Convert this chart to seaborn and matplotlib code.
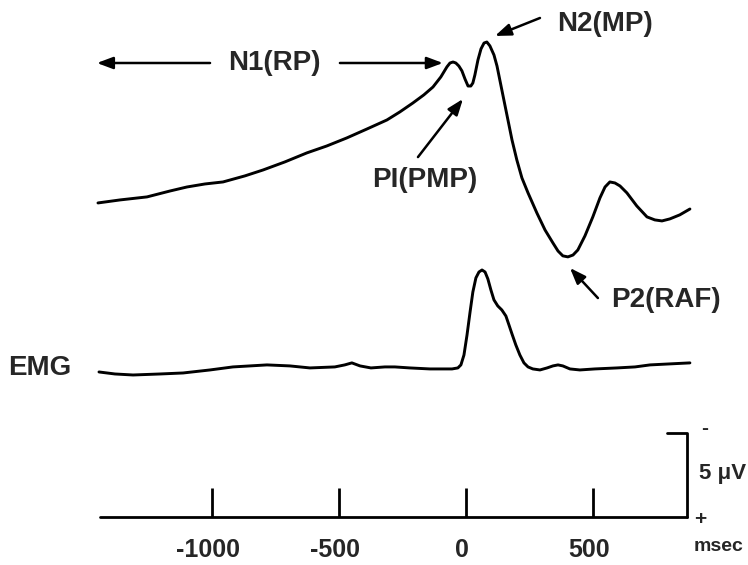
import numpy as np
import pandas as pd
import matplotlib
matplotlib.use("Agg")
import matplotlib.pyplot as plt
import seaborn as sns

# ---- data (time in msec, potentials in microvolts, negative = up) ----
mrcp_time = [-1447, -1360, -1254, -1164, -1097, -1026, -955, -869, -798, -712,
             -625, -547, -468, -389, -310, -259, -208, -165, -129, -98,
             -74, -62, -50, -39, -27, -15, -3, 9, 20, 28,
             36, 48, 60, 72, 83, 95, 111, 123, 142, 162,
             182, 201, 221, 245, 280, 312, 343, 363, 382, 402,
             422, 441, 469, 500, 528, 548, 567, 587, 607, 634,
             673, 713, 744, 772, 803, 842, 882]
mrcp_uv = [0.00, -0.18, -0.36, -0.71, -0.95, -1.13, -1.25, -1.61, -1.96, -2.44,
           -2.98, -3.39, -3.87, -4.40, -4.94, -5.42, -5.95, -6.43, -6.90, -7.50,
           -8.10, -8.33, -8.39, -8.33, -8.15, -7.86, -7.38, -6.96, -6.96, -7.14,
           -7.62, -8.51, -9.17, -9.52, -9.58, -9.35, -8.81, -8.15, -6.73, -5.24,
           -3.75, -2.56, -1.49, -0.60, 0.60, 1.61, 2.38, 2.86, 3.15, 3.21,
           3.10, 2.80, 1.96, 0.83, -0.30, -0.95, -1.25, -1.19, -1.01, -0.60,
           0.18, 0.83, 1.01, 1.07, 0.95, 0.71, 0.36]

emg_time = [-1443, -1380, -1309, -1203, -1112, -1006, -916, -849, -782, -692,
            -613, -515, -476, -448, -416, -373, -318, -279, -220, -141,
            -54, -31, -19, -7, 5, 17, 28, 40, 52, 64,
            76, 87, 99, 111, 126, 142, 158, 170, 182, 197,
            213, 229, 245, 264, 292, 320, 343, 363, 382, 410,
            449, 508, 595, 666, 725, 803, 882]
emg_amp = [0.00, -0.12, -0.18, -0.12, -0.06, 0.12, 0.30, 0.36, 0.42, 0.36,
           0.24, 0.30, 0.42, 0.54, 0.36, 0.24, 0.30, 0.30, 0.24, 0.18,
           0.18, 0.24, 0.42, 1.01, 2.20, 3.57, 4.76, 5.60, 5.95, 6.07,
           5.95, 5.54, 4.88, 4.29, 3.93, 3.69, 3.33, 2.80, 2.26, 1.61,
           1.01, 0.54, 0.30, 0.18, 0.12, 0.24, 0.36, 0.42, 0.36, 0.18,
           0.12, 0.18, 0.24, 0.30, 0.42, 0.48, 0.54]

tick_values = [-1000, -500, 0, 500]
tick_labels = ["-1000", "-500", "0", "500"]
scale_uv = 5

# ---- layout ----
MRCP_BASE = 12.08
EMG_BASE = 22.14
AXIS_Y = 30.77
AXIS_START, AXIS_END = -1439, 870

sns.set_theme(style="white")
plt.rcParams["font.family"] = ["Liberation Sans", "DejaVu Sans"]

fig = plt.figure(figsize=(7.48, 5.65), dpi=100)
ax = fig.add_axes([0, 0, 1, 1])

mrcp = pd.DataFrame({"t": mrcp_time, "y": MRCP_BASE + np.array(mrcp_uv)})
emg = pd.DataFrame({"t": emg_time, "y": EMG_BASE - np.array(emg_amp)})

lw = 2.1
sns.lineplot(data=mrcp, x="t", y="y", color="black", lw=lw, ax=ax,
             estimator=None, sort=False)
sns.lineplot(data=emg, x="t", y="y", color="black", lw=lw, ax=ax,
             estimator=None, sort=False)
for l in ax.lines:
    l.set_solid_joinstyle("round")
    l.set_solid_capstyle("round")

# time axis
ax.plot([AXIS_START, AXIS_END], [AXIS_Y, AXIS_Y], color="black", lw=2.0)
ax.vlines(tick_values, AXIS_Y - 1.7, AXIS_Y, color="black", lw=2.0)
for v, lab in zip(tick_values, tick_labels):
    ax.text(v - 15, AXIS_Y + 1.95, lab, ha="center", va="center",
            fontsize=18, fontweight="bold")
ax.text(993, AXIS_Y + 1.75, "msec", ha="center", va="center",
        fontsize=14, fontweight="bold")

# calibration bar
ax.plot([791, AXIS_END, AXIS_END], [AXIS_Y - scale_uv, AXIS_Y - scale_uv, AXIS_Y],
        color="black", lw=2.0)
ax.text(938, AXIS_Y - scale_uv - 0.25, "-", ha="center", va="center",
        fontsize=15, fontweight="bold")
ax.text(918, AXIS_Y - 2.6, "5 \u03bcV", ha="left", va="center",
        fontsize=16, fontweight="bold")
ax.text(922, AXIS_Y + 0.15, "+", ha="center", va="center",
        fontsize=15, fontweight="bold")

# labels
tfs = 20
ax.text(-1675, 21.9, "EMG", ha="center", va="center", fontsize=tfs, fontweight="bold")
ax.text(-751, 3.75, "N1(RP)", ha="center", va="center", fontsize=tfs, fontweight="bold")
ax.text(-161, 10.71, "PI(PMP)", ha="center", va="center", fontsize=tfs, fontweight="bold")
ax.text(548, 1.40, "N2(MP)", ha="center", va="center", fontsize=tfs, fontweight="bold")
ax.text(788, 17.86, "P2(RAF)", ha="center", va="center", fontsize=tfs, fontweight="bold")

arrow_kw = dict(arrowstyle="-|>,head_length=0.8,head_width=0.3", color="black",
                lw=1.8, shrinkA=0, shrinkB=0)
arrows = [((-1006, 3.75), (-1451, 3.75)),
          ((-495, 3.75), (-90, 3.75)),
          ((-188, 9.35), (-11, 5.89)),
          ((292, 1.07), (115, 2.14)),
          ((520, 17.74), (410, 15.95))]
for tail, tip in arrows:
    ax.annotate("", xy=tip, xytext=tail, arrowprops=arrow_kw)

ax.set_xlim(-1832.4, 1110.5)
ax.set_ylim(33.63, 0)
ax.axis("off")

fig.savefig("out.png", dpi=100, facecolor="white")
